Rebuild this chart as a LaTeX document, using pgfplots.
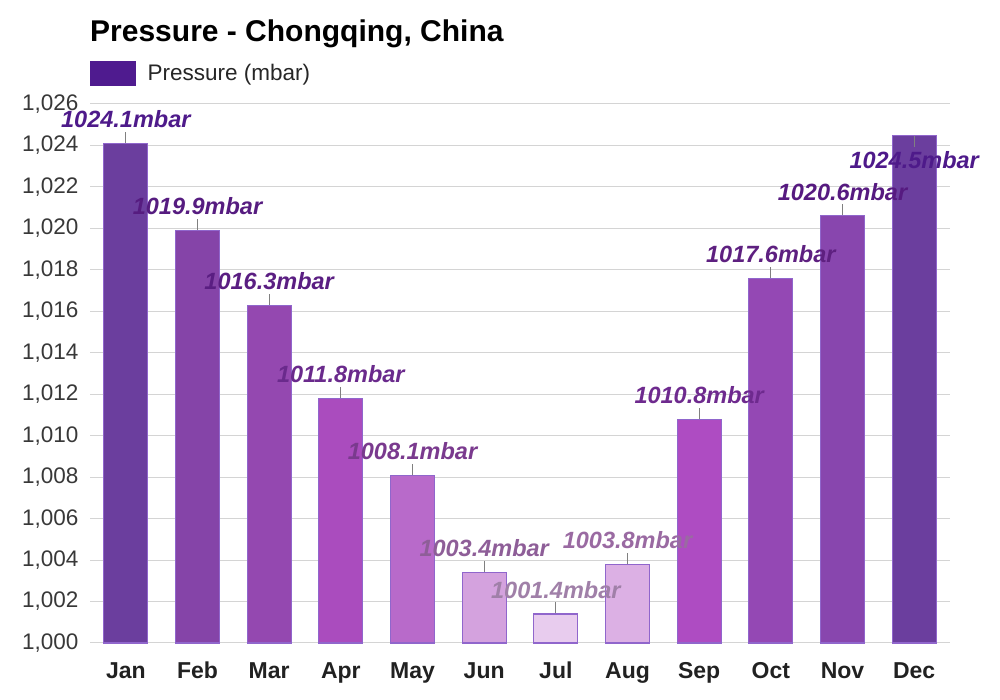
\documentclass[border=0pt]{standalone}
\usepackage{fontspec}
\setmainfont{Liberation Sans}
\usepackage{pgfplots}
\pgfplotsset{compat=1.18}

\definecolor{b1}{HTML}{6B3E9E}\definecolor{l1}{HTML}{4E1A8A}
\definecolor{b2}{HTML}{8544A8}\definecolor{l2}{HTML}{561C80}
\definecolor{b3}{HTML}{9448B0}\definecolor{l3}{HTML}{5A1E82}
\definecolor{b4}{HTML}{AA4CBE}\definecolor{l4}{HTML}{6A2A8C}
\definecolor{b5}{HTML}{B86ACA}\definecolor{l5}{HTML}{7A3A8E}
\definecolor{b6}{HTML}{D4A2DE}\definecolor{l6}{HTML}{8E5E98}
\definecolor{b7}{HTML}{E8CCEE}\definecolor{l7}{HTML}{A080A8}
\definecolor{b8}{HTML}{DCB0E4}\definecolor{l8}{HTML}{9A6AA2}
\definecolor{b9}{HTML}{AE4CC2}\definecolor{l9}{HTML}{6E2A8E}
\definecolor{b10}{HTML}{9448B4}\definecolor{l10}{HTML}{5E2080}
\definecolor{b11}{HTML}{8846AE}\definecolor{l11}{HTML}{561A80}
\definecolor{b12}{HTML}{6B3E9E}\definecolor{l12}{HTML}{4E1A8A}
\definecolor{edge}{HTML}{9066CC}
\definecolor{legcol}{HTML}{4F1B8F}

\newcommand{\onebar}[4]{%
\addplot[ybar, bar width=44pt, bar shift=0pt, fill=#3, draw=edge, line width=1.1pt, forget plot,
  point meta=explicit symbolic,
  nodes near coords={\textcolor{#4}{\pgfplotspointmeta mbar}\\\textcolor{gray}{\rule{0.8pt}{11pt}}},
  every node near coord/.style={anchor=south, inner sep=0pt, align=center,
    font=\fontsize{23.5}{15}\selectfont\bfseries\itshape}]
  coordinates {(#1,#2) [#2]};}

\begin{document}
\begin{tikzpicture}[x=1pt,y=1pt]
\path[use as bounding box] (0,0) rectangle (1000,700);
\node[anchor=west, inner sep=0pt, font=\fontsize{30}{34}\selectfont\bfseries] at (90,666) {Pressure - Chongqing, China};
\begin{axis}[
  at={(90pt,57pt)}, anchor=south west,
  scale only axis, width=860pt, height=539pt,
  xmin=-0.5, xmax=11.5, ymin=1000, ymax=1026,
  clip=false,
  axis line style={draw=none},
  xtick={0,...,11},
  xticklabels={Jan,Feb,Mar,Apr,May,Jun,Jul,Aug,Sep,Oct,Nov,Dec},
  xticklabel style={font=\fontsize{23}{26}\selectfont\bfseries, text=black!87, yshift=-15pt, text height=17pt, text depth=5pt},
  ytick={1000,1002,...,1026},
  minor y tick num=7,
  yticklabel style={font=\fontsize{22.5}{24}\selectfont, text=black!78, xshift=-8pt},
  /pgf/number format/.cd, 1000 sep={,}, assume math mode=true, /pgfplots/.cd,
  major tick length=0pt, minor tick length=0pt,
  ymajorgrids, yminorgrids,
  major grid style={color=black!17, line width=1pt},
  minor grid style={color=black!8, line width=0.8pt},
  legend style={at={(axis description cs:0,1)}, anchor=south west, yshift=18pt,
    draw=none, fill=none, inner sep=0pt, font=\fontsize{22.5}{26}\selectfont,
    nodes={inner sep=0pt, text=black!85}},
]
\addlegendimage{legend image code/.code={\fill[legcol] (0pt,-12pt) rectangle (45pt,12pt); \path (57pt,0pt);}}
\addlegendentry{Pressure (mbar)}
\onebar{0}{1024.1}{b1}{l1}
\onebar{1}{1019.9}{b2}{l2}
\onebar{2}{1016.3}{b3}{l3}
\onebar{3}{1011.8}{b4}{l4}
\onebar{4}{1008.1}{b5}{l5}
\onebar{5}{1003.4}{b6}{l6}
\onebar{6}{1001.4}{b7}{l7}
\onebar{7}{1003.8}{b8}{l8}
\onebar{8}{1010.8}{b9}{l9}
\onebar{9}{1017.6}{b10}{l10}
\onebar{10}{1020.6}{b11}{l11}
\addplot[ybar, bar width=44pt, bar shift=0pt, fill=b12, draw=edge, line width=1.1pt, forget plot,
  point meta=explicit symbolic,
  nodes near coords={\textcolor{gray}{\rule{0.8pt}{11pt}}\\[4pt]\textcolor{l12}{\pgfplotspointmeta mbar}},
  every node near coord/.style={anchor=north, inner sep=0pt, align=center,
    font=\fontsize{23.5}{15}\selectfont\bfseries\itshape}]
  coordinates {(11,1024.5) [1024.5]};
\end{axis}
\end{tikzpicture}
\end{document}
